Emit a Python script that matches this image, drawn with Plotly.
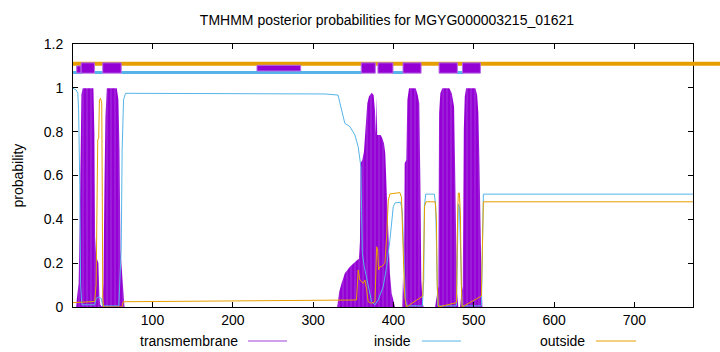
import plotly.graph_objects as go

# ---------------- data ----------------
seq_len = 773

tm_res = [1, 5, 5.6, 6.9, 8, 9.4, 10.5, 11.5, 13.1, 26.4, 27.7, 28.5, 29.8, 31, 32.7, 33.9, 35, 37.3, 38.9, 40.2,
          41.4, 43.1, 55.5, 57.6, 58.9, 60.1, 61.4, 63, 65.1,
          330, 332.5, 335.4, 339.5, 345.8, 352, 354.9, 357, 358.3, 359.1, 361.2, 363.3, 364.5, 365.7, 367.4, 369.5,
          372.8, 375.3, 377, 378.2, 379, 379.8, 384, 386.1, 388.2, 389.8, 391.1, 392.3, 393.6, 395.6, 397.8, 400.6, 402,
          411, 411.9, 413.1, 414, 416, 417.3, 419.4, 427.7, 430.2, 432.2, 433.5, 434.7, 436.4, 437.6,
          451.8, 453.4, 455.9, 456.8, 458.4, 460.9, 469.6, 472.6, 475.5, 476.7, 478, 479.2, 480.8,
          483, 484.6, 486.3, 487.6, 488.8, 490.5, 502.1, 504.2, 505.8, 507.1, 508.3, 509.6, 510.8, 773]
tm_prob = [0, 0, 0.03, 0.078, 0.108, 0.4, 0.85, 0.97, 0.998, 0.998, 0.79, 0.321, 0.23, 0.214, 0.2, 0.047, 0.01, 0, 0.108, 0.564,
           0.868, 0.998, 0.998, 0.944, 0.716, 0.26, 0.2, 0.108, 0,
           0, 0.07, 0.108, 0.154, 0.184, 0.207, 0.214, 0.22, 0.3, 0.656, 0.671, 0.709, 0.777, 0.868, 0.929, 0.96,
           0.978, 0.967, 0.899, 0.79, 0.96, 0.785, 0.785, 0.77, 0.747, 0.701, 0.579, 0.458, 0.306, 0.154, 0.062, 0.017, 0,
           0, 0.138, 0.06, 0.656, 0.671, 0.944, 0.998, 0.998, 0.967, 0.929, 0.58, 0.123, 0.017, 0,
           0, 0.047, 0.093, 0.884, 0.975, 0.998, 0.998, 0.975, 0.914, 0.656, 0.2, 0.062, 0,
           0, 0.062, 0.093, 0.808, 0.96, 0.998, 0.998, 0.967, 0.884, 0.656, 0.351, 0.123, 0, 0]

inside_res = [1, 5, 7, 8, 9.4, 10.5, 12, 28, 30, 33, 36, 38, 58, 61, 62.2, 63.9, 66.4, 200, 315, 331,
              335.4, 339.5, 345.8, 352, 356.1, 358.2, 359.5, 360.4, 361.2, 363.7, 368.6, 372.8, 377, 381, 387.3,
              391.5, 395.6, 397.8, 399.8, 402, 409, 411, 413, 415, 417, 436, 437.7, 438.5, 440.2, 451,
              452.6, 453.9, 455.1, 478.5, 480, 480.8, 482.1, 483.4, 484.5, 485.5, 509.5, 511, 512, 773]
inside_prob = [0.998, 0.99, 0.975, 0.9, 0.56, 0.1, 0.01, 0.01, 0.04, 0.045, 0.04, 0.005, 0.005, 0.26, 0.716, 0.944, 0.975, 0.975, 0.972, 0.967,
               0.906, 0.838, 0.823, 0.785, 0.731, 0.671, 0.64, 0.427, 0.245, 0.184, 0.093, 0.024, 0.01, 0.032, 0.093,
               0.184, 0.306, 0.397, 0.458, 0.475, 0.478, 0.44, 0.2, 0.03, 0.005, 0.005, 0.12, 0.458, 0.515, 0.515,
               0.46, 0.12, 0.005, 0.005, 0.3, 0.47, 0.46, 0.3, 0.05, 0.005, 0.005, 0.3, 0.515, 0.515]

outside_res = [1, 28, 29.8, 31.8, 33, 33.9, 35.2, 36.8, 37.5, 38, 39, 62, 63.5, 300, 354, 356.1, 358.2, 362.4, 364.5, 366.6,
               368.6, 372.8, 377, 379.1, 380.3, 381.5, 383.2, 385.3, 389.4, 391.5, 393.6, 395.7, 408, 410, 412, 414, 416,
               436.5, 437.5, 438.8, 440.5, 452, 453.5, 454.5, 456, 478.5, 480, 480.8, 482.1, 483.4, 484.5, 485.5,
               509.5, 511, 512, 773]
outside_prob = [0.02, 0.025, 0.1, 0.762, 0.77, 0.944, 0.952, 0.93, 0.5, 0.05, 0.0, 0.0, 0.024, 0.03, 0.032, 0.169, 0.123, 0.108, 0.123, 0.078,
                0.024, 0.017, 0.024, 0.275, 0.26, 0.169, 0.184, 0.184, 0.2, 0.321, 0.488, 0.516, 0.522, 0.5, 0.3, 0.05, 0.0,
                0.05, 0.2, 0.46, 0.48, 0.48, 0.4, 0.1, 0.0, 0.02, 0.44, 0.52, 0.52, 0.42, 0.1, 0.0,
                0.05, 0.35, 0.48, 0.48]

# predicted topology (top strip)
helix_start = [11.1, 38.0, 359.9, 380.7, 411.9, 456.8, 485.9]
helix_end = [27.7, 61.0, 377.4, 399.4, 434.4, 479.6, 508.3]
helix_stub_start = [5.6]
helix_stub_end = [11.1]
weak_start = [230.1]
weak_end = [284.5]
inside_start = [1, 28, 61, 399, 479]
inside_end = [12, 38, 360, 412, 487]

x_ticks = [100, 200, 300, 400, 500, 600, 700]
y_ticks = [0, 0.2, 0.4, 0.6, 0.8, 1.0, 1.2]
y_tick_text = ["0", "0.2", "0.4", "0.6", "0.8", "1", "1.2"]

title_text = "TMHMM posterior probabilities for MGYG000003215_01621"
legend_names = ["transmembrane", "inside", "outside"]

# ---------------- style ----------------
PURPLE = "#9400D3"
BLUE = "#56B4E9"
ORANGE = "#E69F00"
FONT = "Liberation Sans"

fig = go.Figure()
fig.add_trace(go.Scatter(
    x=tm_res, y=tm_prob, mode="lines", name=legend_names[0],
    line=dict(color=PURPLE, width=0), fill="tozeroy", fillcolor=PURPLE,
    fillpattern=dict(shape="|", size=4, solidity=0.2, fgcolor="#C58AF0", bgcolor=PURPLE),
    showlegend=False))
fig.add_trace(go.Scatter(x=inside_res, y=inside_prob, mode="lines", name=legend_names[1],
                         line=dict(color=BLUE, width=1), showlegend=False))
fig.add_trace(go.Scatter(x=outside_res, y=outside_prob, mode="lines", name=legend_names[2],
                         line=dict(color=ORANGE, width=1), showlegend=False))

L, R, T, B = 73, 27, 44, 45
W, H = 720, 352
pw = W - L - R
ph = H - T - B

shapes = []
# outside line (runs past the frame to the page edge)
shapes.append(dict(type="line", xref="paper", yref="y", x0=0, x1=(W - L) / pw, y0=1.11, y1=1.11,
                   line=dict(color=ORANGE, width=4), layer="above"))
for s, e in zip(inside_start, inside_end):
    shapes.append(dict(type="line", xref="x", yref="y", x0=s, x1=e, y0=1.07, y1=1.07,
                       line=dict(color=BLUE, width=3), layer="above"))
for s, e in zip(helix_stub_start, helix_stub_end):
    shapes.append(dict(type="rect", xref="x", yref="y", x0=s, x1=e, y0=1.068, y1=1.1,
                       fillcolor=PURPLE, line=dict(color="#B56BE6", width=1), layer="above"))
for s, e in zip(weak_start, weak_end):
    shapes.append(dict(type="rect", xref="x", yref="y", x0=s, x1=e, y0=1.077, y1=1.103,
                       fillcolor=PURPLE, line=dict(color="#B56BE6", width=1), layer="above"))
for s, e in zip(helix_start, helix_end):
    shapes.append(dict(type="rect", xref="x", yref="y", x0=s, x1=e, y0=1.067, y1=1.114,
                       fillcolor=PURPLE, line=dict(color="#B56BE6", width=1), layer="above"))

# manual gnuplot-style key: text then sample line
key_y_px = 341
key_items = [(legend_names[0], 240, 248, 287, "#A040D8"),
             (legend_names[1], 413, 422, 461, BLUE),
             (legend_names[2], 587, 596, 636, ORANGE)]
annotations = []
for name, tx, l0, l1, col in key_items:
    yp = (H - B - key_y_px) / ph
    annotations.append(dict(text=name, xref="paper", yref="paper", x=(tx - L) / pw, y=yp,
                            xanchor="right", yanchor="middle", showarrow=False,
                            font=dict(family=FONT, size=14, color="black")))
    shapes.append(dict(type="line", xref="paper", yref="paper", x0=(l0 - L) / pw, x1=(l1 - L) / pw,
                       y0=yp, y1=yp, line=dict(color=col, width=1)))

annotations.append(dict(text="probability", xref="paper", yref="paper", x=(17 - L) / pw, y=0.5,
                        xanchor="center", yanchor="middle", textangle=-90, showarrow=False,
                        font=dict(family=FONT, size=14, color="black")))

fig.update_layout(
    width=W, height=H, margin=dict(l=L, r=R, t=T, b=B),
    paper_bgcolor="white", plot_bgcolor="white",
    font=dict(family=FONT, size=14, color="black"),
    title=dict(text=title_text, x=387 / W, xanchor="center", y=1 - 20 / H, yanchor="middle",
               font=dict(family=FONT, size=14, color="black")),
    shapes=shapes, annotations=annotations, showlegend=False,
)
fig.update_xaxes(range=[1, seq_len], tickvals=x_ticks, ticks="inside", ticklen=5, tickcolor="black",
                 showline=True, linecolor="black", linewidth=1, mirror="ticks", showgrid=False,
                 zeroline=False, tickfont=dict(family=FONT, size=14, color="black"))
fig.update_yaxes(range=[0, 1.2], tickvals=y_ticks, ticktext=y_tick_text, ticks="inside", ticklen=5,
                 tickcolor="black", showline=True, linecolor="black", linewidth=1, mirror="ticks",
                 showgrid=False, zeroline=False, ticklabelstandoff=6,
                 tickfont=dict(family=FONT, size=14, color="black"))

fig.write_html("out.html")
